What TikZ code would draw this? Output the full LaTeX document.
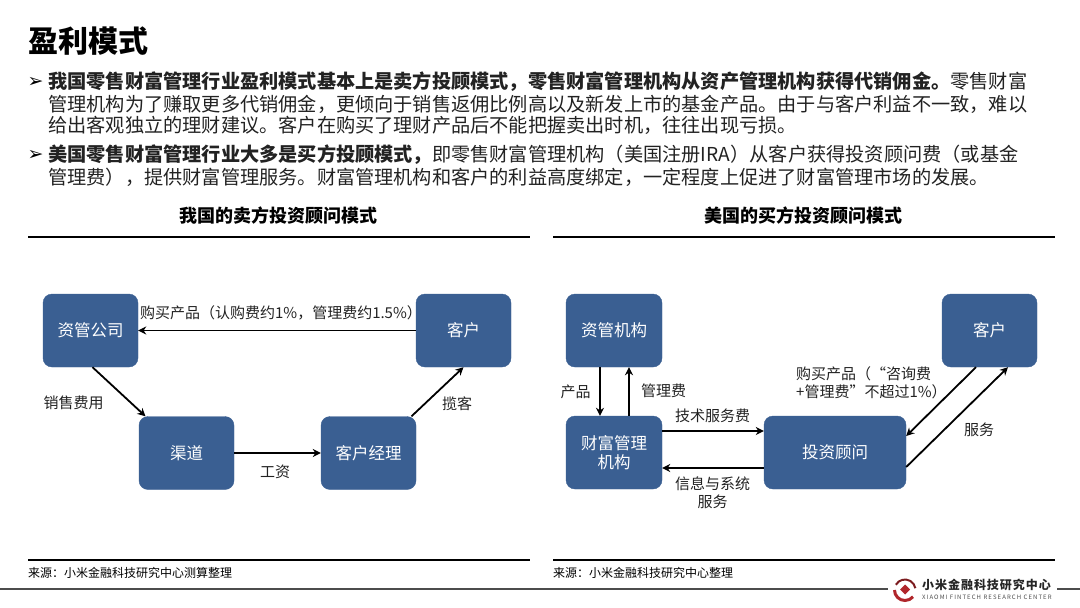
\documentclass[tikz,border=0pt]{standalone}
\usepackage{fontspec}
\usepackage{xcolor}
\usetikzlibrary{positioning,calc,arrows.meta}
\setmainfont{Noto Sans CJK SC}
\newfontfamily\bulletfont{DejaVu Sans}
\newfontfamily\logofont[LetterSpace=8]{Noto Sans CJK SC}
\newfontfamily\logoenfont[LetterSpace=18]{Noto Sans CJK SC}
\definecolor{boxbg}{HTML}{3A5F92}
\definecolor{textfg}{HTML}{222222}
\definecolor{logored}{HTML}{B0262B}
\newcommand{\fsz}[1]{\fontsize{#1}{#1}\selectfont}
\tikzset{
  flowbox/.style={draw=boxbg, fill=boxbg, rounded corners=9pt, text=white, align=center, inner sep=0pt, font=\fsz{16.5}},
  flowline/.style={line width=1.8pt, -{Stealth[length=8pt,width=8pt]}, black},
  flowtext/.style={text=textfg, align=center, inner sep=0pt, font=\fsz{15}},
  bodyline/.style={anchor=west, text=textfg, inner sep=0pt, font=\fsz{19.2}},
  headtext/.style={text=black, inner sep=0pt, font=\fsz{18}\bfseries},
  srctext/.style={anchor=west, text=black, inner sep=0pt, font=\fsz{12}},
  bullet/.style={inner sep=0pt, text=black, font=\bulletfont\fsz{19}},
  rulebar/.style={line width=2pt, black}
}
\begin{document}
\begin{tikzpicture}[x=1pt, y=-1pt]
  \useasboundingbox (0, 0) rectangle (1080, 608);

  % Title
  \node[anchor=west, inner sep=0pt, font=\fsz{30}\bfseries] (title) at (28, 41) {盈利模式};

  % Body text
  \node[bullet] (bulletA) at (35.5, 82) {➢};
  \node[bodyline] (lineA) at (48, 82) {\textbf{我国零售财富管理行业盈利模式基本上是卖方投顾模式，零售财富管理机构从资产管理机构获得代销佣金。}零售财富};
  \node[bodyline] (lineB) at (48, 104) {管理机构为了赚取更多代销佣金，更倾向于销售返佣比例高以及新发上市的基金产品。由于与客户利益不一致，难以};
  \node[bodyline] (lineC) at (48, 125) {给出客观独立的理财建议。客户在购买了理财产品后不能把握卖出时机，往往出现亏损。};
  \node[bullet] (bulletB) at (35.5, 155) {➢};
  \node[bodyline] (lineD) at (48, 155) {\textbf{美国零售财富管理行业大多是买方投顾模式，}即零售财富管理机构（美国注册IRA）从客户获得投资顾问费（或基金};
  \node[bodyline] (lineE) at (48, 177) {管理费），提供财富管理服务。财富管理机构和客户的利益高度绑定，一定程度上促进了财富管理市场的发展。};

  % Column heads
  \node[headtext] (headL) at (278.5, 216) {我国的卖方投资顾问模式};
  \node[headtext] (headR) at (803, 216) {美国的买方投资顾问模式};
  \draw[rulebar] (28, 237) -- (530, 237);
  \draw[rulebar] (553, 237) -- (1055, 237);

  % Left flow
  \node[flowbox, minimum width=95pt, minimum height=73pt] (zgcompany) at (90.5, 330.5) {资管公司};
  \node[flowbox, minimum width=95pt, minimum height=73pt] (khleft) at (463.5, 330.5) {客户};
  \node[flowbox, minimum width=95pt, minimum height=73pt] (channel) at (186.5, 453) {渠道};
  \node[flowbox, minimum width=95pt, minimum height=73pt] (manager) at (368.5, 453) {客户经理};
  \draw[flowline] (khleft) -- (zgcompany);
  \draw[flowline] ([xshift=2pt]zgcompany.south) -- ([xshift=-41pt]channel.north);
  \draw[flowline] (channel) -- (manager);
  \draw[flowline] ([xshift=43pt]manager.north) -- ([xshift=0pt]khleft.south);
  \node[flowtext] (buyL) at (281, 313) {购买产品（认购费约1\%，管理费约1.5\%）};
  \node[flowtext] (feeL) at (73.5, 403) {销售费用};
  \node[flowtext] (wage) at (275, 472) {工资};
  \node[flowtext] (solicit) at (457, 404) {揽客};

  % Right flow
  \node[flowbox, minimum width=96pt, minimum height=73pt] (zgorg) at (614, 330.5) {资管机构};
  \node[flowbox, minimum width=96pt, minimum height=73pt] (wealth) at (614, 452.5) {财富管理\\[3pt]机构};
  \node[flowbox, minimum width=142pt, minimum height=73pt] (advisor) at (835, 452.5) {投资顾问};
  \node[flowbox, minimum width=95pt, minimum height=73pt] (khright) at (989.5, 330.5) {客户};
  \draw[flowline] ([xshift=-14pt]zgorg.south) -- ([xshift=-14pt]wealth.north);
  \draw[flowline] ([xshift=15pt]wealth.north) -- ([xshift=15pt]zgorg.south);
  \draw[flowline] ([yshift=21.5pt]wealth.east) -- ([yshift=21.5pt]advisor.west);
  \draw[flowline] ([yshift=-15.5pt]advisor.west) -- ([yshift=-15.5pt]wealth.east);
  \draw[flowline] ([xshift=-13.5pt]khright.south) -- ([yshift=16.5pt]advisor.east);
  \draw[flowline] ([yshift=-14.5pt]advisor.east) -- ([xshift=18.5pt]khright.south);
  \node[flowtext] (prod) at (575.5, 392) {产品};
  \node[flowtext] (mgmtfee) at (663.5, 391) {管理费};
  \node[flowtext] (techfee) at (712.5, 416) {技术服务费};
  \node[flowtext] (infosvc) at (712.5, 493) {信息与系统\\[3pt]服务};
  \node[flowtext, anchor=west, align=left] (buyR) at (796, 383) {购买产品（“咨询费\\[3pt]+管理费”不超过1\%）};
  \node[flowtext] (svc) at (979, 430) {服务};

  % Source lines
  \draw[rulebar] (28, 560) -- (530, 560);
  \draw[rulebar] (553, 560) -- (1055, 560);
  \node[srctext] (srcL) at (28, 573) {来源：小米金融科技研究中心测算整理};
  \node[srctext] (srcR) at (553, 573) {来源：小米金融科技研究中心整理};

  % Footer logo
  \draw[line width=1.4pt, black!70] (0, 589) -- (888, 589);
  \draw[line width=1.4pt, black!70] (1057, 589) -- (1080, 589);
  \draw[line width=2pt, logored!70!black] (905, 590) ++(-150:10.5) arc[start angle=-150, end angle=-10, radius=10.5];
  \draw[line width=3pt, logored] (905, 590) ++(-180:10.5) arc[start angle=-180, end angle=-320, radius=10.5];
  \fill[logored] (905, 584.5) -- (910, 589.5) -- (905, 594.5) -- (900, 589.5) -- cycle;
  \node[anchor=west, inner sep=0pt, text=black!85, font=\logofont\fsz{12}\bfseries] (logocn) at (922, 585) {小米金融科技研究中心};
  \node[anchor=west, inner sep=0pt, text=black!70, font=\logoenfont\fsz{6}] (logoen) at (922, 597) {XIAOMI FINTECH RESEARCH CENTER};
\end{tikzpicture}
\end{document}
